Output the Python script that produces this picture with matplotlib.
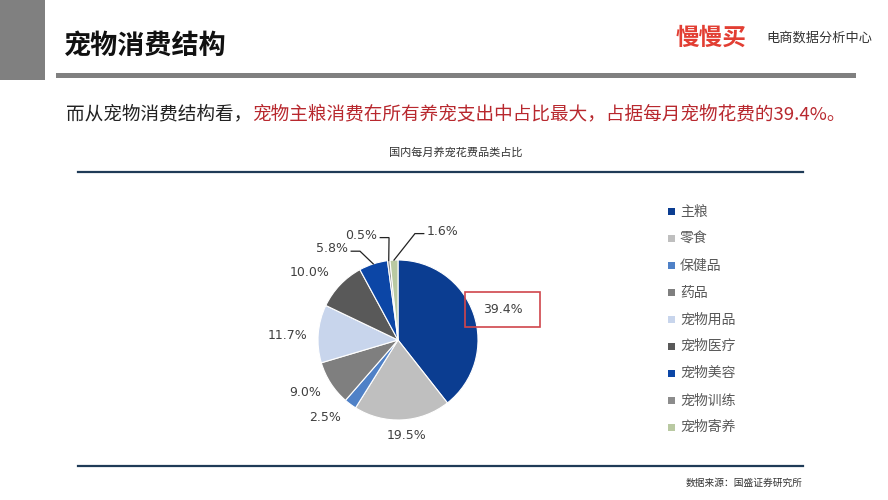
import numpy as np
import matplotlib
matplotlib.use("Agg")
import matplotlib.pyplot as plt
from matplotlib.patches import Rectangle
from matplotlib.lines import Line2D

plt.rcParams['font.family'] = ['Noto Sans CJK SC', 'DejaVu Sans']

# --- data ---
categories = ['主粮', '零食', '保健品', '药品', '宠物用品', '宠物医疗', '宠物美容', '宠物训练', '宠物寄养']
shares = [39.4, 19.5, 2.5, 9.0, 11.7, 10.0, 5.8, 0.5, 1.6]
colors = ['#0b3d91', '#bfbfbf', '#4f81c7', '#7f7f7f', '#c8d5ec',
          '#595959', '#0c46a6', '#8c8c8c', '#b9c9a2']

page_title = '宠物消费结构'
brand = '慢慢买'
brand_note = '电商数据分析中心'
lead_black = '而从宠物消费结构看，'
lead_red = '宠物主粮消费在所有养宠支出中占比最大，占据每月宠物花费的39.4%。'
chart_title = '国内每月养宠花费品类占比'
source = '数据来源：国盛证券研究所'

# label placement: (distance from centre in radii, angle nudge in degrees)
label_polar = {'主粮': (1.36, -3), '零食': (1.195, 2.2), '保健品': (1.33, -6.5),
               '药品': (1.335, -3.2), '宠物用品': (1.376, 2), '宠物医疗': (1.384, 6.2)}
# small slices get a leader line: (x, y, ha) in pie units
label_leader = {'宠物美容': (-0.625, 1.14, 'right'),
                '宠物训练': (-0.262, 1.31, 'right'),
                '宠物寄养': (0.362, 1.36, 'left')}
highlight = '主粮'

W, H = 888, 500


def fx(x):
    return x / W


def fy(y):
    return 1 - y / H


fig = plt.figure(figsize=(W / 100, H / 100), dpi=100)

# --- header ---
fig.add_artist(Rectangle((0, fy(80)), fx(45), 80 / H, transform=fig.transFigure,
                         color='#808080', lw=0))
fig.add_artist(Line2D([fx(58), fx(853)], [fy(75), fy(75)], lw=3.6, color='#808080'))
fig.text(fx(64), fy(46), page_title, fontsize=19.5, weight='black', color='#111111',
         va='center', ha='left')
fig.text(fx(676), fy(38), brand, fontsize=17, weight='bold', color='#e23e33',
         va='center', ha='left')
fig.text(fx(766), fy(38), brand_note, fontsize=9.5, color='#333333',
         va='center', ha='left')

# --- lead sentence, two colours ---
t1 = fig.text(fx(66), fy(114), lead_black, fontsize=13.4, color='#222222',
              va='center', ha='left')

# --- chart frame ---
fig.text(fx(456), fy(153), chart_title, fontsize=8, color='#333333', ha='center', va='center')
for yy in (172, 466):
    fig.add_artist(Line2D([fx(78), fx(803)], [fy(yy), fy(yy)], lw=1.6, color='#1f3b57'))
fig.text(fx(803), fy(483), source, fontsize=7, color='#333333', ha='right', va='center')

# --- pie ---
R = 80  # radius in px
cx, cy = 398, 340
ax = fig.add_axes([fx(cx - 2 * R), fy(cy + 2 * R), 4 * R / W, 4 * R / H])
wedges, _ = ax.pie(shares, colors=colors, startangle=90, counterclock=False,
                   wedgeprops=dict(edgecolor='white', linewidth=0.8))
ax.set_xlim(-2, 2)
ax.set_ylim(-2, 2)
ax.axis('off')

ax.annotate(lead_red, xy=(1, 0.5), xycoords=t1, fontsize=13.4, color='#b8282e',
            va='center', ha='left', annotation_clip=False)

lab_kw = dict(fontsize=9, color='#404040', family='DejaVu Sans')
for w, name, v in zip(wedges, categories, shares):
    mid = np.deg2rad((w.theta1 + w.theta2) / 2)
    txt = f'{v:.1f}%'
    if name in label_polar:
        d, nudge = label_polar[name]
        a = mid + np.deg2rad(nudge)
        lx, ly = d * np.cos(a), d * np.sin(a)
        ax.text(lx, ly, txt, ha='center', va='center', **lab_kw)
        if name == highlight:
            ax.add_patch(Rectangle((lx - 0.47, ly - 0.22), 0.94, 0.44, fill=False,
                                   edgecolor='#d0454c', lw=1.2))
    else:
        lx, ly, ha = label_leader[name]
        ax.text(lx, ly, txt, ha=ha, va='center', **lab_kw)
        side = 1 if ha == 'right' else -1
        end_x = lx + side * 0.04
        elbow_x = end_x + side * 0.11
        line_y = ly - 0.03
        ax.plot([np.cos(mid), elbow_x, end_x], [np.sin(mid), line_y, line_y],
                color='#222222', lw=0.9, solid_joinstyle='miter')

# --- legend ---
for i, (name, c) in enumerate(zip(categories, colors)):
    yc = 211.7 + i * 26.95
    fig.add_artist(Rectangle((fx(668), fy(yc + 3.5)), 7 / W, 7 / H,
                             transform=fig.transFigure, color=c, lw=0))
    fig.text(fx(680), fy(yc), name, fontsize=10, color='#595959', va='center', ha='left')

fig.savefig('out.png', dpi=100)
